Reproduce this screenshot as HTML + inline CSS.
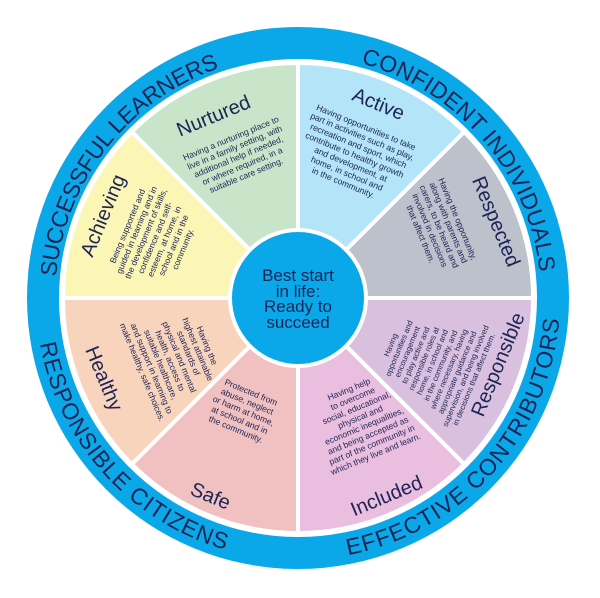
<!DOCTYPE html>
<html><head><meta charset="utf-8"><style>
html,body{margin:0;padding:0;background:#fff;}
svg{display:block;}
.t{font-family:"Liberation Sans",sans-serif;fill:#1c2455;}
.ring{font-size:23px;}
.ti{font-size:20px;}
.b{font-size:8.6px;}
</style></head><body>
<svg width="600" height="598" viewBox="0 0 600 598" xmlns="http://www.w3.org/2000/svg">
<defs>
<path id="p1" d="M56.1,276.8 A243,243 0 0 1 218.9,68.2"/>
<path id="p2" d="M360.9,63.3 A243,243 0 0 1 539.7,272.6"/>
<path id="p3" d="M40,343.5 A262,262 0 0 0 225.8,549.9"/>
<path id="p4" d="M348,555.2 A262,262 0 0 0 559.2,319"/>
</defs>
<circle cx="298" cy="298" r="271" fill="#0aa8e8"/>
<circle cx="298" cy="298" r="239" fill="#fff"/>
<g stroke="#fff" stroke-width="4" stroke-linejoin="round">
<path d="M298,298 L131.8,131.8 A235,235 0 0 1 298,63 Z" fill="#c9e5c9"/>
<path d="M298,298 L298,63 A235,235 0 0 1 464.2,131.8 Z" fill="#b3e4f8"/>
<path d="M298,298 L464.2,131.8 A235,235 0 0 1 533,298 Z" fill="#bcc1cc"/>
<path d="M298,298 L533,298 A235,235 0 0 1 464.2,464.2 Z" fill="#d9c0de"/>
<path d="M298,298 L464.2,464.2 A235,235 0 0 1 298,533 Z" fill="#e9bedf"/>
<path d="M298,298 L298,533 A235,235 0 0 1 131.8,464.2 Z" fill="#f1c1c2"/>
<path d="M298,298 L131.8,464.2 A235,235 0 0 1 63,298 Z" fill="#f8d4bd"/>
<path d="M298,298 L63,298 A235,235 0 0 1 131.8,131.8 Z" fill="#fbf6b5"/>
</g>
<circle cx="298" cy="298" r="68" fill="#0aa8e8" stroke="#fff" stroke-width="4"/>
<g class="t" text-anchor="middle" font-size="17">
<text x="298" y="281">Best start</text>
<text x="298" y="297">in life:</text>
<text x="298" y="312">Ready to</text>
<text x="298" y="328">succeed</text>
</g>
<g class="t ring">
<text><textPath href="#p1" textLength="280" lengthAdjust="spacing">SUCCESSFUL LEARNERS</textPath></text>
<text><textPath href="#p2" textLength="292" lengthAdjust="spacing">CONFIDENT INDIVIDUALS</textPath></text>
<text><textPath href="#p3" textLength="292" lengthAdjust="spacing">RESPONSIBLE CITIZENS</textPath></text>
<text><textPath href="#p4" textLength="340" lengthAdjust="spacing">EFFECTIVE CONTRIBUTORS</textPath></text>
</g>
<g class="t ti" text-anchor="middle">
<text transform="translate(216,122) rotate(-22.5)">Nurtured</text>
<text transform="translate(376,110) rotate(22.5)">Active</text>
<text transform="translate(490,224) rotate(67.5)">Respected</text>
<text transform="translate(504,367) rotate(-67.5)">Responsible</text>
<text transform="translate(389,502) rotate(-22.5)">Included</text>
<text transform="translate(208,502) rotate(22.5)">Safe</text>
<text transform="translate(98,381) rotate(67.5)">Healthy</text>
<text transform="translate(109,218) rotate(-67.5)">Achieving</text>
</g>
<g class="t b" text-anchor="middle">
<text transform="translate(232,141) rotate(-22.5)"><tspan x="0" dy="0">Having a nurturing place to</tspan><tspan x="0" dy="10">live in a family setting, with</tspan><tspan x="0" dy="10">additional help if needed,</tspan><tspan x="0" dy="10">or where required, in a</tspan><tspan x="0" dy="10">suitable care setting.</tspan></text>
<text transform="translate(365,130) rotate(22.5)"><tspan x="0" dy="0">Having opportunities to take</tspan><tspan x="0" dy="10">part in activities such as play,</tspan><tspan x="0" dy="10">recreation and sport, which</tspan><tspan x="0" dy="10">contribute to healthy growth</tspan><tspan x="0" dy="10">and development, at</tspan><tspan x="0" dy="10">home, in school and</tspan><tspan x="0" dy="10">in the community.</tspan></text>
<text transform="translate(455,220) rotate(67.5)"><tspan x="0" dy="0">Having the opportunity,</tspan><tspan x="0" dy="10">along with parents and</tspan><tspan x="0" dy="10">carers, to be heard and</tspan><tspan x="0" dy="10">involved in decisions</tspan><tspan x="0" dy="10">that affect them.</tspan></text>
<text transform="translate(432,362) rotate(-67.5)" font-size="7.8"><tspan x="0" dy="-42">Having</tspan><tspan x="0" dy="9">opportunities and</tspan><tspan x="0" dy="9">encouragement</tspan><tspan x="0" dy="9">to play active and</tspan><tspan x="0" dy="9">responsible roles at</tspan><tspan x="0" dy="9">home, in school and</tspan><tspan x="0" dy="9">in the community, and</tspan><tspan x="0" dy="9">where necessary, having</tspan><tspan x="0" dy="9">appropriate guidance and</tspan><tspan x="0" dy="9">supervision, and being involved</tspan><tspan x="0" dy="9">in decisions that affect them.</tspan></text>
<text transform="translate(350,392) rotate(-22.5)"><tspan x="0" dy="0">Having help</tspan><tspan x="0" dy="10">to overcome</tspan><tspan x="0" dy="10">social, educational,</tspan><tspan x="0" dy="10">physical and</tspan><tspan x="0" dy="10">economic inequalities,</tspan><tspan x="0" dy="10">and being accepted as</tspan><tspan x="0" dy="10">part of the community in</tspan><tspan x="0" dy="10">which they live and learn.</tspan></text>
<text transform="translate(250,395) rotate(22.5)"><tspan x="0" dy="0">Protected from</tspan><tspan x="0" dy="10">abuse, neglect</tspan><tspan x="0" dy="10">or harm at home,</tspan><tspan x="0" dy="10">at school and in</tspan><tspan x="0" dy="10">the community.</tspan></text>
<text transform="translate(172,360) rotate(67.5)"><tspan x="0" dy="-35">Having the</tspan><tspan x="0" dy="10">highest attainable</tspan><tspan x="0" dy="10">standards of</tspan><tspan x="0" dy="10">physical and mental</tspan><tspan x="0" dy="10">health, access to</tspan><tspan x="0" dy="10">suitable healthcare,</tspan><tspan x="0" dy="10">and support in learning to</tspan><tspan x="0" dy="10">make healthy, safe choices.</tspan></text>
<text transform="translate(156,238) rotate(-67.5)"><tspan x="0" dy="-28">Being supported and</tspan><tspan x="0" dy="10">guided in learning and in</tspan><tspan x="0" dy="10">the development of skills,</tspan><tspan x="0" dy="10">confidence and self-</tspan><tspan x="0" dy="10">esteem, at home, in</tspan><tspan x="0" dy="10">school and in the</tspan><tspan x="0" dy="10">community.</tspan></text>
</g>
</svg>
</body></html>
